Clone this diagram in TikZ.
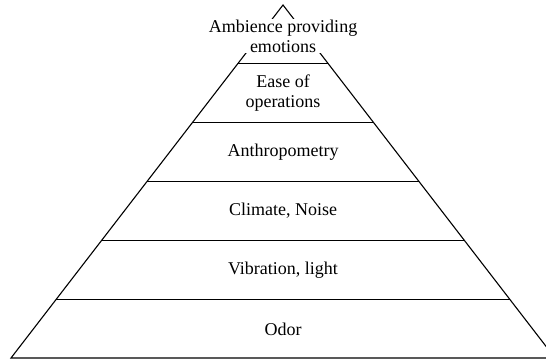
\documentclass[tikz,border=0pt]{standalone}
\usepackage{fontspec}
\setmainfont{Liberation Serif}
\usetikzlibrary{calc}
\begin{document}
\begin{tikzpicture}[x=1pt,y=1pt,
  edge/.style={draw=black,line width=1.1pt,line join=miter},
  lbl/.style={font=\fontsize{18}{20}\selectfont,align=center,inner sep=0pt},
  toplbl/.style={font=\fontsize{18}{20}\selectfont,align=center,fill=white,inner sep=1pt}]
\useasboundingbox (0,0) rectangle (546,362);
\clip (0,0) rectangle (546,362);
% apex and base corners
\coordinate (apex) at (283,357);
\coordinate (bl) at (11,4);
\coordinate (br) at (555,4);
\draw[edge] (bl) -- (apex) -- (br) -- cycle;
% layer lines
\foreach \i in {1,...,5}{
  \coordinate (L\i) at ($(bl)!\i/6!(apex)$);
  \coordinate (R\i) at ($(br)!\i/6!(apex)$);
  \draw[edge] (L\i) -- (R\i);
}
\node[lbl] (odor) at (283,33) {Odor};
\node[lbl] (vib) at (283,92) {Vibration, light};
\node[lbl] (clim) at (283,151) {Climate, Noise};
\node[lbl] (anth) at (283,210) {Anthropometry};
\node[lbl] (ease) at (283,269) {Ease of\\operations};
\node[toplbl] (amb) at (283,326) {Ambience providing\\emotions};
\end{tikzpicture}
\end{document}
